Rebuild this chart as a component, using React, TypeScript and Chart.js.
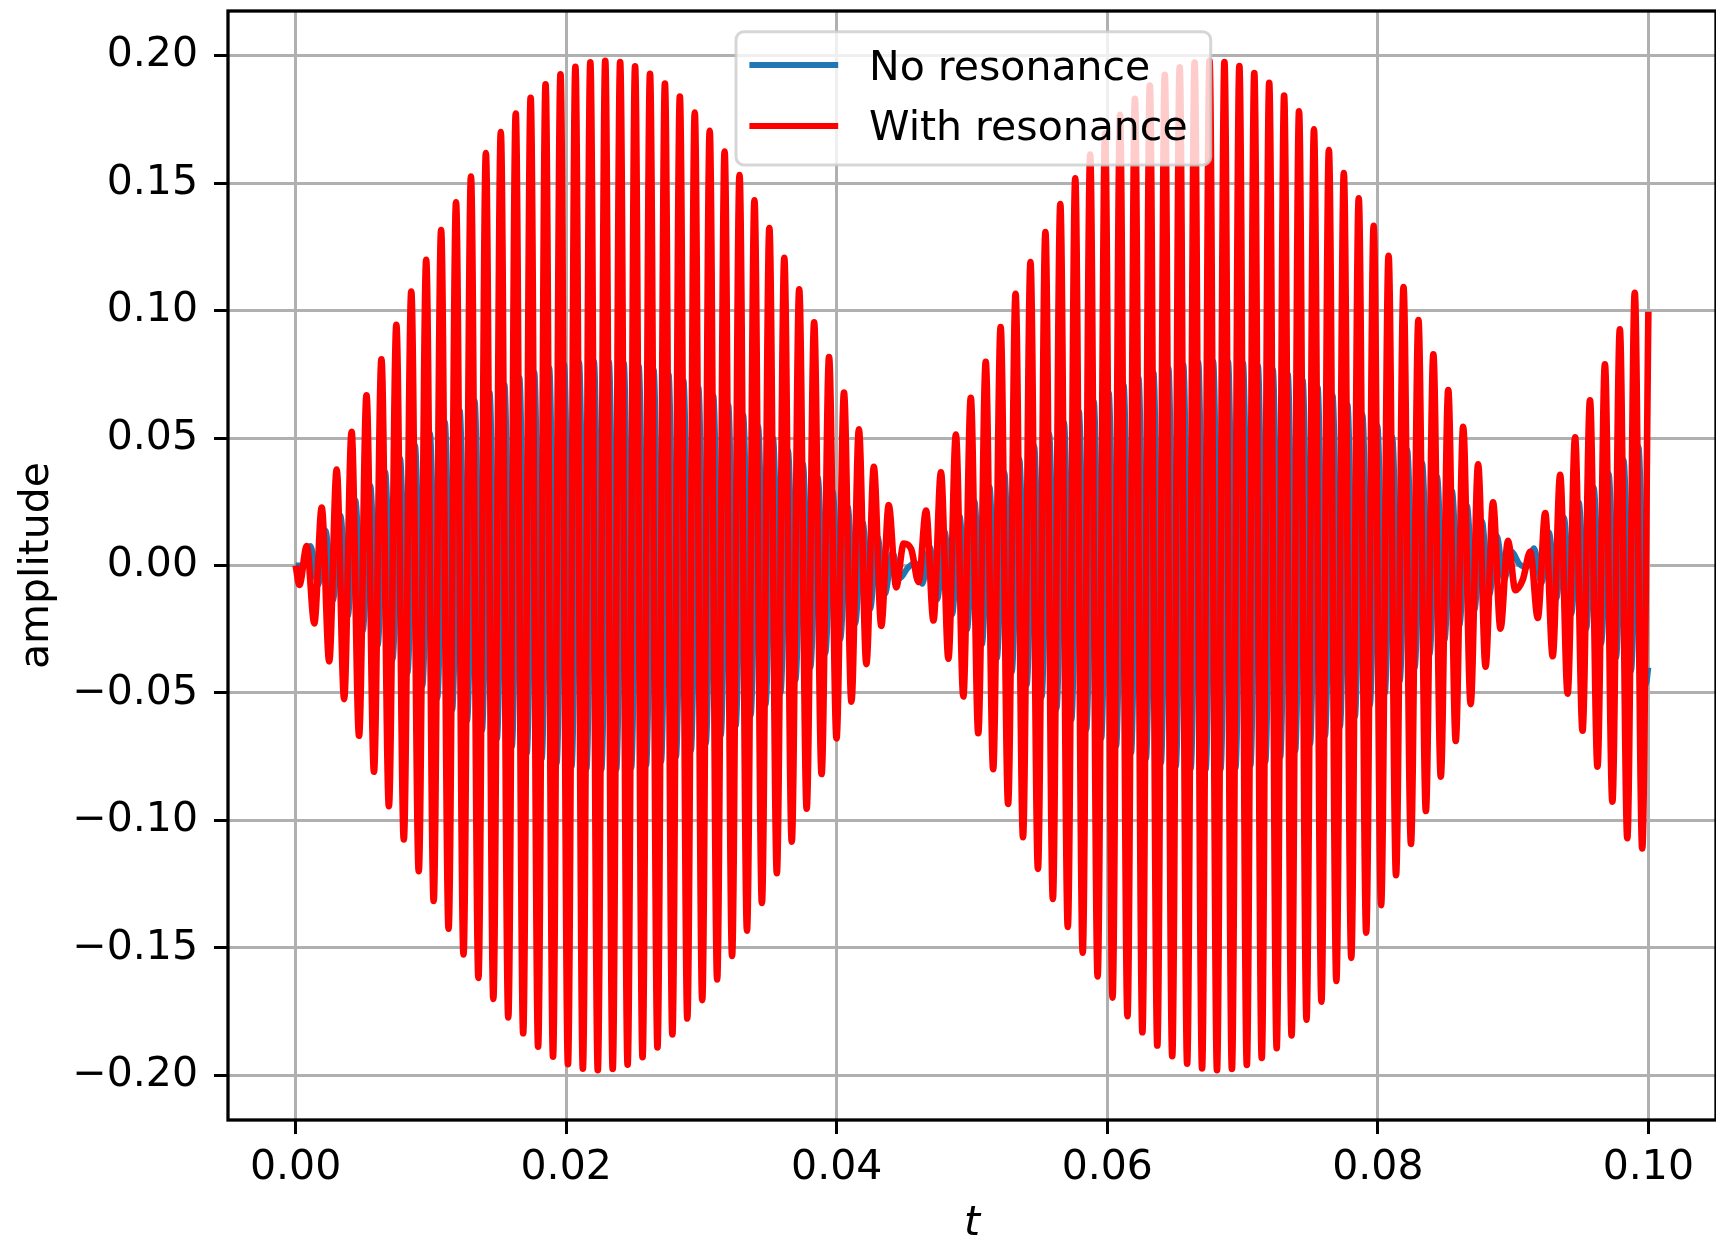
import React, { useEffect, useRef } from 'react';
import { Chart, registerables } from 'chart.js';

Chart.register(...registerables);

// ---- data ----
const seriesLabels = ['No resonance', 'With resonance'];
const xTicks = [0, 0.02, 0.04, 0.06, 0.08, 0.1];
const yTicks = [-0.2, -0.15, -0.1, -0.05, 0, 0.05, 0.1, 0.15, 0.2];
const xLabel = 't';
const yLabel = 'amplitude';

const tEnd = 0.1;
// half a period of the fast oscillation (seconds), read from the peak spacing
const halfPeriod = 0.0005515;
// time of first extremum of each curve
const redFirstExtremum = 0.000276;
const blueFirstExtremum = 0;

// amplitude of each oscillation cycle (signed: the phase flips at the beat nodes)
// red: trough first, then peak
const redCycleAmplitude = [
  0.0076, 0.0227, 0.0376, 0.0524, 0.0668, 0.0809, 0.0944, 0.1075, 0.1199, 0.1316,
  0.1425, 0.1526, 0.1618, 0.17, 0.1773, 0.1835, 0.1887, 0.1927, 0.1956, 0.1974,
  0.198, 0.1975, 0.1958, 0.1929, 0.189, 0.1839, 0.1777, 0.1705, 0.1624, 0.1532,
  0.1432, 0.1324, 0.1207, 0.1083, 0.0954, 0.0818, 0.0678, 0.0534, 0.0387, 0.0237,
  0.0086, -0.0065, -0.0216, -0.0366, -0.0514, -0.0658, -0.0799, -0.0935, -0.1066, -0.119,
  -0.1308, -0.1418, -0.1519, -0.1612, -0.1695, -0.1768, -0.1831, -0.1883, -0.1925, -0.1954,
  -0.1973, -0.198, -0.1975, -0.1959, -0.1932, -0.1893, -0.1843, -0.1782, -0.1711, -0.163,
  -0.1539, -0.144, -0.1332, -0.1215, -0.1092, -0.0963, -0.0828, -0.0688, -0.0544, -0.0397,
  -0.0248, -0.0097, 0.0055, 0.0206, 0.0356, 0.0503, 0.0648, 0.0789, 0.0926, 0.107,
  0.111,
];
// blue: peak first, then trough
const blueCycleAmplitude = [
  0.0, 0.0076, 0.0137, 0.0197, 0.0256, 0.0313, 0.0368, 0.0421, 0.0472, 0.052,
  0.0565, 0.0607, 0.0645, 0.0679, 0.0709, 0.0736, 0.0757, 0.0775, 0.0788, 0.0796,
  0.08, 0.0799, 0.0793, 0.0783, 0.0768, 0.0749, 0.0725, 0.0697, 0.0665, 0.0629,
  0.0589, 0.0546, 0.05, 0.0451, 0.0399, 0.0344, 0.0288, 0.023, 0.0171, 0.0111,
  0.005, -0.0011, -0.0072, -0.0133, -0.0193, -0.0251, -0.0309, -0.0364, -0.0418, -0.0469,
  -0.0517, -0.0562, -0.0604, -0.0642, -0.0677, -0.0707, -0.0734, -0.0756, -0.0774, -0.0787,
  -0.0796, -0.08, -0.0799, -0.0794, -0.0784, -0.0769, -0.075, -0.0727, -0.0699, -0.0667,
  -0.0631, -0.0592, -0.0549, -0.0503, -0.0454, -0.0402, -0.0348, -0.0292, -0.0234, -0.0175,
  -0.0115, -0.0054, 0.0007, 0.0068, 0.0129, 0.0189, 0.0247, 0.0305, 0.036, 0.0414,
  0.0465,
];
const redEndValue = 0.0995;
const blueEndValue = -0.04;

const FONT = '"DejaVu Sans", sans-serif';
const RED = '#ff0000';
const BLUE = '#1f77b4';

function buildSeries(first: number, amps: number[], firstSign: number, endValue: number) {
  const pts: { x: number; y: number }[] = [{ x: 0, y: 0 }];
  amps.forEach((a, k) => {
    [0, 1].forEach((i) => {
      const t = first + (2 * k + i) * halfPeriod;
      if (t > 0 && t < tEnd) pts.push({ x: t, y: (i === 0 ? firstSign : -firstSign) * a });
    });
  });
  pts.push({ x: tEnd, y: endValue });
  return pts;
}

const fmt = (v: number) => (v < -1e-9 ? '\u2212' : '') + Math.abs(v).toFixed(2);

const decorPlugin = {
  id: 'decor',
  afterDatasetsDraw(chart: any) {
    const { ctx, chartArea } = chart;
    const { left, top, right, bottom } = chartArea;
    ctx.save();
    // spines
    ctx.strokeStyle = '#000';
    ctx.lineWidth = 3.3;
    ctx.strokeRect(left, top, right - left, bottom - top);

    // legend box
    const bx = 736, by = 31.7, bw = 474.7, bh = 133.3, r = 8;
    ctx.beginPath();
    ctx.moveTo(bx + r, by);
    ctx.lineTo(bx + bw - r, by);
    ctx.arcTo(bx + bw, by, bx + bw, by + r, r);
    ctx.lineTo(bx + bw, by + bh - r);
    ctx.arcTo(bx + bw, by + bh, bx + bw - r, by + bh, r);
    ctx.lineTo(bx + r, by + bh);
    ctx.arcTo(bx, by + bh, bx, by + bh - r, r);
    ctx.lineTo(bx, by + r);
    ctx.arcTo(bx, by, bx + r, by, r);
    ctx.closePath();
    ctx.fillStyle = 'rgba(255,255,255,0.8)';
    ctx.fill();
    ctx.strokeStyle = 'rgba(204,204,204,0.8)';
    ctx.lineWidth = 3;
    ctx.stroke();

    const items = [
      { label: seriesLabels[0], color: BLUE, y: 65, base: 80 },
      { label: seriesLabels[1], color: RED, y: 126, base: 140 },
    ];
    items.forEach((it) => {
      ctx.beginPath();
      ctx.strokeStyle = it.color;
      ctx.lineWidth = 6;
      ctx.lineCap = 'square';
      ctx.moveTo(752.4, it.y);
      ctx.lineTo(835.2, it.y);
      ctx.stroke();
      ctx.fillStyle = '#000';
      ctx.font = `41px ${FONT}`;
      ctx.textAlign = 'left';
      ctx.textBaseline = 'alphabetic';
      ctx.fillText(it.label, 869, it.base);
    });

    // axis titles
    ctx.fillStyle = '#000';
    ctx.font = `italic 41px ${FONT}`;
    ctx.textAlign = 'center';
    ctx.textBaseline = 'alphabetic';
    ctx.fillText(xLabel, (left + right) / 2, 1235);
    ctx.save();
    ctx.translate(48, (top + bottom) / 2);
    ctx.rotate(-Math.PI / 2);
    ctx.font = `41px ${FONT}`;
    ctx.fillText(yLabel, 0, 0);
    ctx.restore();
    ctx.restore();
  },
};

export default function App() {
  const ref = useRef<HTMLCanvasElement>(null);
  useEffect(() => {
    if (!ref.current) return;
    const blue = buildSeries(blueFirstExtremum, blueCycleAmplitude, 1, blueEndValue);
    const red = buildSeries(redFirstExtremum, redCycleAmplitude, -1, redEndValue);
    const tickFont = { family: FONT, size: 41 };
    const zeroPad = (s: any) => {
      s.paddingLeft = 0;
      s.paddingRight = 0;
      s.paddingTop = 0;
      s.paddingBottom = 0;
    };
    const chart = new Chart(ref.current, {
      type: 'line',
      data: {
        datasets: [
          {
            label: seriesLabels[0],
            data: blue,
            borderColor: BLUE,
            borderWidth: 6,
            pointRadius: 0,
            cubicInterpolationMode: 'monotone',
            borderJoinStyle: 'round',
            fill: false,
            order: 1,
          },
          {
            label: seriesLabels[1],
            data: red,
            borderColor: RED,
            borderWidth: 6.6,
            pointRadius: 0,
            cubicInterpolationMode: 'monotone',
            borderJoinStyle: 'round',
            fill: false,
            order: 0,
          },
        ],
      } as any,
      options: {
        animation: false,
        responsive: false,
        maintainAspectRatio: false,
        devicePixelRatio: 1,
        events: [],
        layout: { padding: { top: 11, left: 0, right: 0, bottom: 0 } },
        plugins: { legend: { display: false }, tooltip: { enabled: false } },
        scales: {
          x: {
            type: 'linear',
            min: -0.005,
            max: 0.105,
            afterBuildTicks: (s: any) => {
              s.ticks = xTicks.map((v) => ({ value: v }));
            },
            afterFit: (s: any) => {
              s.height = 126;
              zeroPad(s);
            },
            ticks: {
              callback: (v: any) => fmt(Number(v)),
              font: tickFont,
              color: '#000',
              padding: 10,
              maxRotation: 0,
              autoSkip: false,
            },
            grid: { color: '#b0b0b0', lineWidth: 3, tickColor: '#000', tickLength: 14, tickWidth: 3 },
            border: { display: false },
          },
          y: {
            type: 'linear',
            min: -0.2175,
            max: 0.2175,
            afterBuildTicks: (s: any) => {
              s.ticks = yTicks.map((v) => ({ value: v }));
            },
            afterFit: (s: any) => {
              s.width = 228;
              zeroPad(s);
            },
            ticks: {
              callback: (v: any) => fmt(Number(v)),
              font: tickFont,
              color: '#000',
              padding: 16,
              autoSkip: false,
            },
            grid: { color: '#b0b0b0', lineWidth: 3, tickColor: '#000', tickLength: 14, tickWidth: 3 },
            border: { display: false },
          },
        },
      } as any,
      plugins: [decorPlugin],
    });
    return () => chart.destroy();
  }, []);
  return (
    <canvas
      ref={ref}
      width={1716}
      height={1246}
      style={{ position: 'fixed', left: 0, top: 0, width: 1716, height: 1246, display: 'block' }}
    />
  );
}
